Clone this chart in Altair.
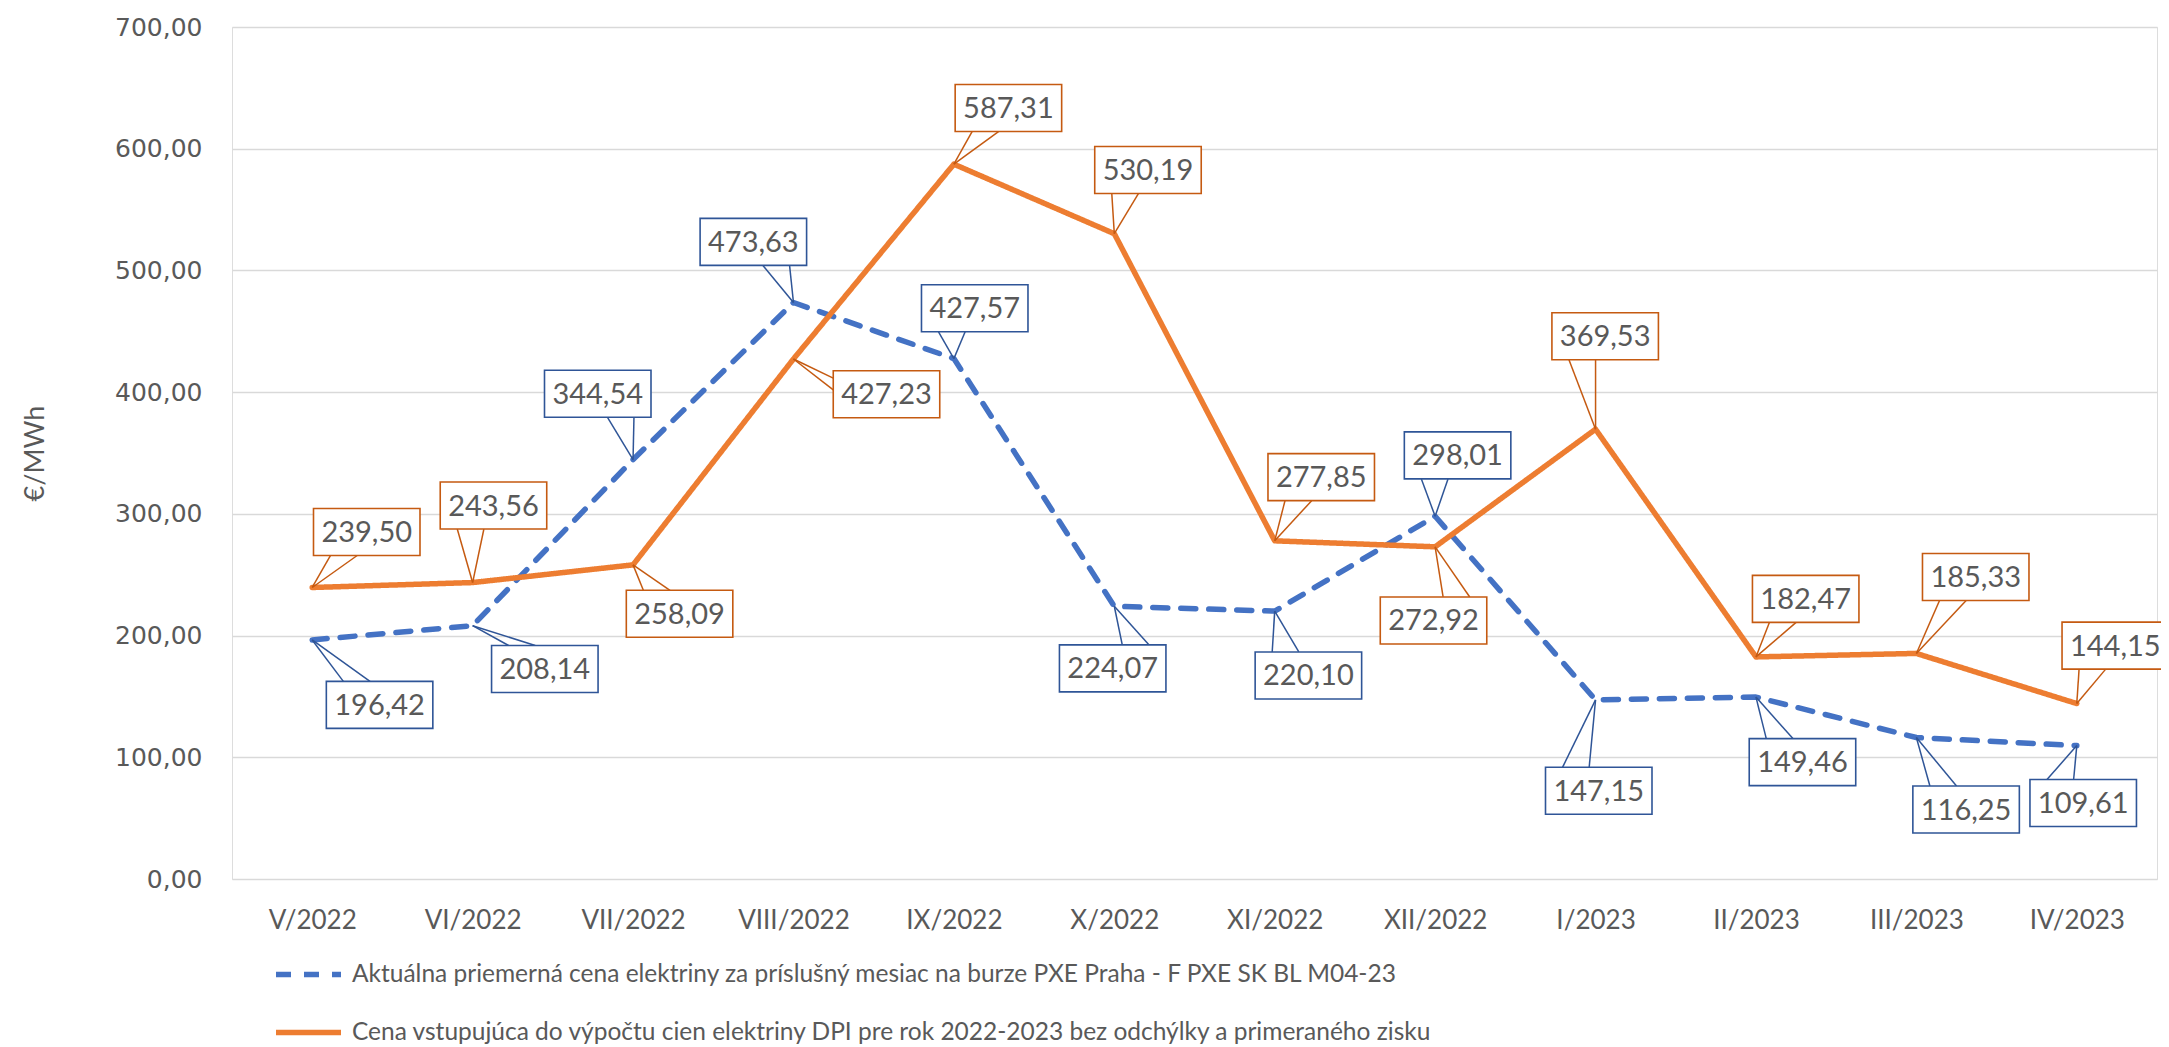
import json
import altair as alt
import pandas as pd

# ---------------- data ----------------
months = ["V/2022", "VI/2022", "VII/2022", "VIII/2022", "IX/2022", "X/2022",
          "XI/2022", "XII/2022", "I/2023", "II/2023", "III/2023", "IV/2023"]
series_blue = "Aktuálna priemerná cena elektriny za príslušný mesiac na burze PXE Praha - F PXE SK BL M04-23"
series_orange = "Cena vstupujúca do výpočtu cien elektriny DPI pre rok 2022-2023 bez odchýlky a primeraného zisku"
blue_vals = [196.42, 208.14, 344.54, 473.63, 427.57, 224.07, 220.10, 298.01, 147.15, 149.46, 116.25, 109.61]
orange_vals = [239.50, 243.56, 258.09, 427.23, 587.31, 530.19, 277.85, 272.92, 369.53, 182.47, 185.33, 144.15]

# ---------------- callout layout (offset of label box from its point: categories, €/MWh) ----------------
blue_dx = [0.42, 0.45, -0.22, -0.25, 0.13, -0.01, 0.21, 0.14, 0.02, 0.29, 0.31, 0.04]
blue_dy = [-53.4, -35.6, 54.2, 49.8, 41.3, -51.0, -52.9, 50.0, -74.7, -53.4, -59.2, -47.2]
orange_dx = [0.34, 0.13, 0.29, 0.58, 0.34, 0.21, 0.29, -0.01, 0.06, 0.31, 0.37, 0.24]
orange_dy = [45.6, 63.3, -40.2, -28.9, 46.2, 52.3, 52.3, -60.5, 76.4, 47.7, 62.8, 47.6]

W, H = 1925, 852
YMAX = 700
PXX = W / 12.0
PXY = H / YMAX
BOX_A = 53.25   # half width px
BOX_B = 23.5    # half height px

BLUE = "#4472C4"
ORANGE = "#ED7D31"
BLUE_EDGE = "#2F5597"
ORANGE_EDGE = "#C55A11"
TEXT = "#595959"


def fmt(v):
    return f"{v:.2f}".replace(".", ",")


lines_rows = []
for i, m in enumerate(months):
    lines_rows.append({"idx": i, "value": blue_vals[i], "series": series_blue})
for i, m in enumerate(months):
    lines_rows.append({"idx": i, "value": orange_vals[i], "series": series_orange})
lines_df = pd.DataFrame(lines_rows)

box_rows, ptr_rows = [], []
for vals, dxs, dys, edge in [(blue_vals, blue_dx, blue_dy, BLUE_EDGE),
                             (orange_vals, orange_dx, orange_dy, ORANGE_EDGE)]:
    for i, v in enumerate(vals):
        X, Y = i * PXX, v * PXY
        CX, CY = (i + dxs[i]) * PXX, (v + dys[i]) * PXY
        gx = max(0.0, abs(X - CX) - BOX_A)
        gy = max(0.0, abs(Y - CY) - BOX_B)
        if gy >= gx:
            ey = CY + BOX_B if Y > CY else CY - BOX_B
            if X > CX:
                bases = [(CX + 0.18 * BOX_A, ey), (CX + 0.68 * BOX_A, ey)]
            else:
                bases = [(CX - 0.68 * BOX_A, ey), (CX - 0.18 * BOX_A, ey)]
        else:
            ex = CX - BOX_A if X < CX else CX + BOX_A
            if Y > CY:
                bases = [(ex, CY + 0.18 * BOX_B), (ex, CY + 0.68 * BOX_B)]
            else:
                bases = [(ex, CY - 0.68 * BOX_B), (ex, CY - 0.18 * BOX_B)]
        for bx, by in bases:
            ptr_rows.append({"x": bx / PXX, "y": by / PXY, "x2": i, "y2": v, "edge": edge})
        box_rows.append({
            "cx": CX / PXX, "cy": CY / PXY,
            "x": (CX - BOX_A) / PXX, "x2": (CX + BOX_A) / PXX,
            "y": (CY - BOX_B) / PXY, "y2": (CY + BOX_B) / PXY,
            "edge": edge, "label": fmt(v),
        })
box_df = pd.DataFrame(box_rows)
ptr_df = pd.DataFrame(ptr_rows)

xscale = alt.Scale(domain=[-0.5, 11.5], nice=False, zero=False)
yscale = alt.Scale(domain=[0, YMAX], nice=False)

x_axis = alt.Axis(
    values=list(range(12)),
    labelExpr=json.dumps(months, ensure_ascii=False) + "[datum.value]",
    grid=False, domain=False, ticks=False, title=None,
    labelFont="Lato", labelFontSize=26, labelColor=TEXT, labelPadding=28,
)
y_axis = alt.Axis(
    values=list(range(0, 701, 100)),
    labelExpr="replace(format(datum.value, '.2f'), '.', ',')",
    grid=True, gridColor="#D9D9D9", gridWidth=1.4,
    domain=False, ticks=False,
    labelFont="DejaVu Sans", labelFontSize=25, labelColor=TEXT, labelPadding=30,
    title="€/MWh", titleFont="Lato", titleFontSize=27, titleFontWeight="normal",
    titleColor=TEXT, titleX=-197, titleY=H / 2, titleAngle=270,
    titleAlign="center", titleBaseline="middle",
)

lines = alt.Chart(lines_df).mark_line(strokeCap="round", strokeJoin="round").encode(
    x=alt.X("idx:Q", scale=xscale, axis=x_axis),
    y=alt.Y("value:Q", scale=yscale, axis=y_axis),
    color=alt.Color("series:N", scale=alt.Scale(domain=[series_blue, series_orange], range=[BLUE, ORANGE]),
                    legend=alt.Legend(
                        orient="none", legendX=41, legendY=912, direction="vertical",
                        title=None, symbolType="stroke", symbolSize=4225, symbolStrokeWidth=5.5,
                        labelFont="Lato", labelFontSize=24.5, labelColor=TEXT, labelLimit=0,
                        labelOffset=8, rowPadding=11, padding=0,
                    )),
    strokeDash=alt.StrokeDash("series:N", scale=alt.Scale(domain=[series_blue, series_orange],
                                                          range=[[15, 13], [1, 0]])),
    strokeWidth=alt.StrokeWidth("series:N", scale=alt.Scale(domain=[series_blue, series_orange],
                                                            range=[5.5, 5.5]), legend=None),
    detail="series:N",
)

pointers = alt.Chart(ptr_df).mark_rule(strokeWidth=1.5).encode(
    x=alt.X("x:Q", scale=xscale), y=alt.Y("y:Q", scale=yscale),
    x2="x2:Q", y2="y2:Q",
    stroke=alt.Stroke("edge:N", scale=None),
)

boxes = alt.Chart(box_df).mark_rect(fill="white", strokeWidth=1.6).encode(
    x=alt.X("x:Q", scale=xscale), x2="x2:Q",
    y=alt.Y("y:Q", scale=yscale), y2="y2:Q",
    stroke=alt.Stroke("edge:N", scale=None),
)

texts = alt.Chart(box_df).mark_text(font="Lato", fontSize=29, color=TEXT, baseline="middle", align="center", dy=1).encode(
    x=alt.X("cx:Q", scale=xscale), y=alt.Y("cy:Q", scale=yscale),
    text="label:N",
)

chart = alt.layer(lines, pointers, boxes, texts).properties(
    width=W, height=H,
    autosize=alt.AutoSizeParams(type="none"),
    padding={"left": 224, "top": 19, "right": 4, "bottom": 168},
).configure_view(stroke=None).configure(background="white")

chart.save("out.html", embed_options={"renderer": "svg", "actions": False})
